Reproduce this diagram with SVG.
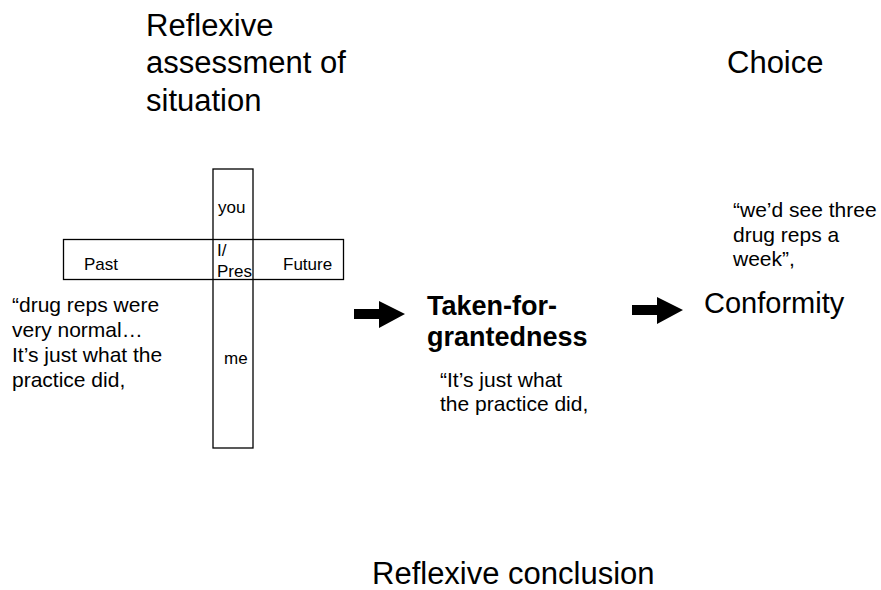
<svg xmlns="http://www.w3.org/2000/svg" xmlns:xlink="http://www.w3.org/1999/xlink" width="881" height="590" viewBox="0 0 881 590">
  <style>
    text { font-family: "Liberation Sans", Arial, sans-serif; fill: #000; }
    .head { font-size: 31px; }
    .big { font-size: 29px; }
    .bold { font-size: 27px; font-weight: bold; }
    .quote { font-size: 21px; }
    .lbl { font-size: 17px; }
    .box { fill: none; stroke: #000; stroke-width: 1.3; }
  </style>
  <defs>
    <!-- block arrow, tail at x=0, tip at x=51, centred on y=0 -->
    <polygon id="blockArrow" points="0,-5 25,-5 25,-13 51,0 25,14 25,5 0,5" fill="#000"/>
  </defs>
  <rect width="881" height="590" fill="#fff"/>

  <g id="assessment">
    <text class="head" x="146" y="36">Reflexive</text>
    <text class="head" x="146" y="73">assessment of</text>
    <text class="head" x="146" y="111">situation</text>
  </g>

  <g id="choice">
    <text class="head" x="727" y="73">Choice</text>
  </g>

  <!-- time/person cross: two overlapping open boxes -->
  <g id="cross">
    <rect class="box" x="63.5" y="239.5" width="280" height="40"/>
    <rect class="box" x="213" y="169" width="40" height="279"/>
    <text class="lbl" x="218" y="213">you</text>
    <text class="lbl" x="84" y="270">Past</text>
    <text class="lbl" x="283" y="270">Future</text>
    <text class="lbl" x="217" y="256">I/</text>
    <text class="lbl" x="217" y="277">Pres</text>
    <text class="lbl" x="224" y="364">me</text>
  </g>

  <g id="quotePast">
    <text class="quote" x="12" y="312">“drug reps were</text>
    <text class="quote" x="12" y="337">very normal…</text>
    <text class="quote" x="12" y="362">It’s just what the</text>
    <text class="quote" x="12" y="387">practice did,</text>
  </g>

  <g id="takenForGranted">
    <text class="bold" x="427" y="315">Taken-for-</text>
    <text class="bold" x="427" y="346">grantedness</text>
    <text class="quote" x="440" y="387">“It’s just what</text>
    <text class="quote" x="440" y="411">the practice did,</text>
  </g>

  <g id="conformity">
    <text class="quote" x="733" y="217">“we’d see three</text>
    <text class="quote" x="733" y="242">drug reps a</text>
    <text class="quote" x="733" y="266">week”,</text>
    <text class="big" x="704" y="313">Conformity</text>
  </g>

  <g id="conclusion">
    <text class="head" x="372" y="584">Reflexive conclusion</text>
  </g>

  <g id="connectors">
    <use xlink:href="#blockArrow" x="354" y="314"/>
    <use xlink:href="#blockArrow" x="632" y="310"/>
  </g>
</svg>
